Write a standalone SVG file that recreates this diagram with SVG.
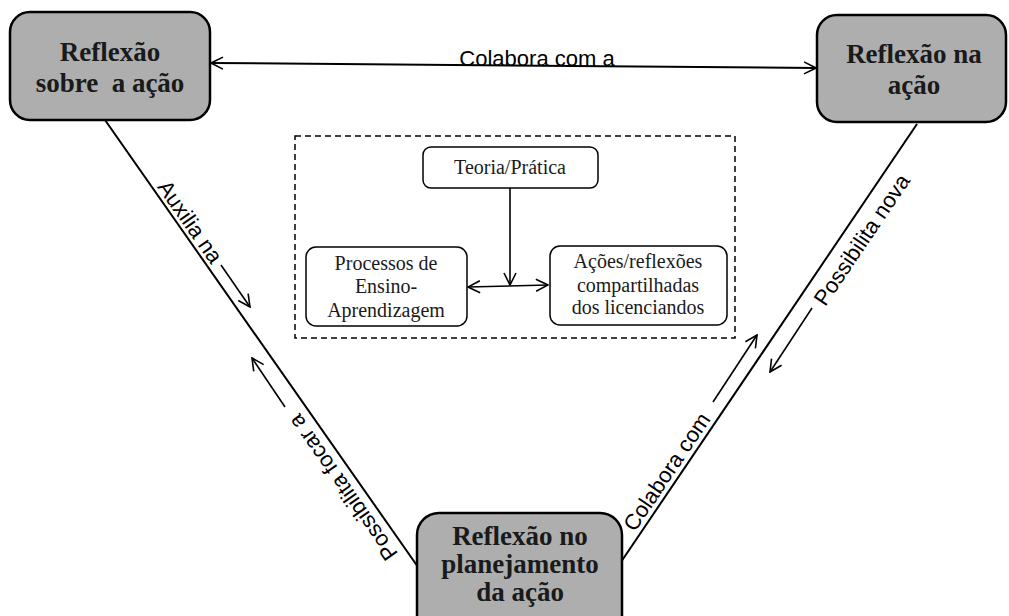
<svg xmlns="http://www.w3.org/2000/svg" width="1009" height="616" viewBox="0 0 1009 616">
<style>
.node{fill:#aeaeae;stroke:#000;stroke-width:2.5}
.inner{fill:#fff;stroke:#000;stroke-width:1.5}
.big{font-family:"Liberation Serif","Times New Roman",serif;font-weight:bold;font-size:27px;fill:#1a1a1a;text-anchor:middle}
.small{font-family:"Liberation Serif","Times New Roman",serif;font-size:20px;fill:#1a1a1a;text-anchor:middle}
.lbl{font-family:"Liberation Sans",Arial,sans-serif;font-size:22px;fill:#000;text-anchor:middle}
.ln{stroke:#000;stroke-width:2;fill:none}
.ar{stroke:#000;stroke-width:1.6;fill:none}
</style>
<defs>
<marker id="ah" viewBox="0 0 14 14" refX="13" refY="7" markerWidth="14" markerHeight="14" markerUnits="userSpaceOnUse" orient="auto-start-reverse">
<path d="M1,1 L13,7 L1,13" fill="none" stroke="#000" stroke-width="1.6"/>
</marker>
</defs>
<rect width="1009" height="616" fill="#fff"/>
<g id="connectors">
<line class="ln" x1="211" y1="63" x2="816" y2="68" marker-start="url(#ah)" marker-end="url(#ah)"/>
<line class="ln" x1="105" y1="120" x2="418" y2="567"/>
<line class="ln" x1="917" y1="124" x2="621" y2="562"/>
<line class="ar" x1="221" y1="265" x2="250" y2="307" marker-end="url(#ah)"/>
<line class="ar" x1="285" y1="407" x2="252" y2="358" marker-end="url(#ah)"/>
<line class="ar" x1="812" y1="308" x2="770" y2="372" marker-end="url(#ah)"/>
<line class="ar" x1="713" y1="402" x2="757" y2="335" marker-end="url(#ah)"/>
<line class="ar" x1="510" y1="188" x2="510" y2="285" marker-end="url(#ah)"/>
<line class="ar" x1="468" y1="287" x2="548" y2="285" marker-start="url(#ah)" marker-end="url(#ah)"/>
<text class="lbl" x="537" y="66">Colabora com a</text>
<text class="lbl" x="184" y="226" transform="rotate(55 184 226)">Auxilia na</text>
<text class="lbl" x="349" y="483" transform="rotate(235 349 483)">Possibilita focar a</text>
<text class="lbl" x="868" y="244" transform="rotate(-56 868 244)">Possibilita nova</text>
<text class="lbl" x="673" y="476" transform="rotate(-56 673 476)">Colabora com</text>
</g>
<g id="frame">
<rect x="295" y="136" width="440" height="202" fill="none" stroke="#000" stroke-width="1.5" stroke-dasharray="6 4"/>
</g>
<g id="n-sobre">
<rect class="node" x="10" y="12" width="200" height="108" rx="20"/>
<text class="big" x="110" y="61">Reflexão</text>
<text class="big" x="110" y="92" xml:space="preserve">sobre  a ação</text>
</g>
<g id="n-na">
<rect class="node" x="817" y="15" width="189" height="107" rx="20"/>
<text class="big" x="914" y="63">Reflexão na</text>
<text class="big" x="914" y="94">ação</text>
</g>
<g id="n-planejamento">
<rect class="node" x="417" y="513" width="205" height="125" rx="22"/>
<text class="big" x="520" y="545">Reflexão no</text>
<text class="big" x="520" y="573">planejamento</text>
<text class="big" x="520" y="601">da ação</text>
</g>
<g id="n-teoria">
<rect class="inner" x="423" y="147" width="175" height="41" rx="8"/>
<text class="small" x="510" y="174">Teoria/Prática</text>
</g>
<g id="n-processos">
<rect class="inner" x="306" y="247" width="161" height="79" rx="10"/>
<text class="small" x="386" y="270">Processos de</text>
<text class="small" x="386" y="293">Ensino-</text>
<text class="small" x="386" y="317">Aprendizagem</text>
</g>
<g id="n-acoes">
<rect class="inner" x="550" y="246" width="177" height="79" rx="10"/>
<text class="small" x="638" y="268">Ações/reflexões</text>
<text class="small" x="638" y="292">compartilhadas</text>
<text class="small" x="638" y="314">dos licenciandos</text>
</g>
</svg>
